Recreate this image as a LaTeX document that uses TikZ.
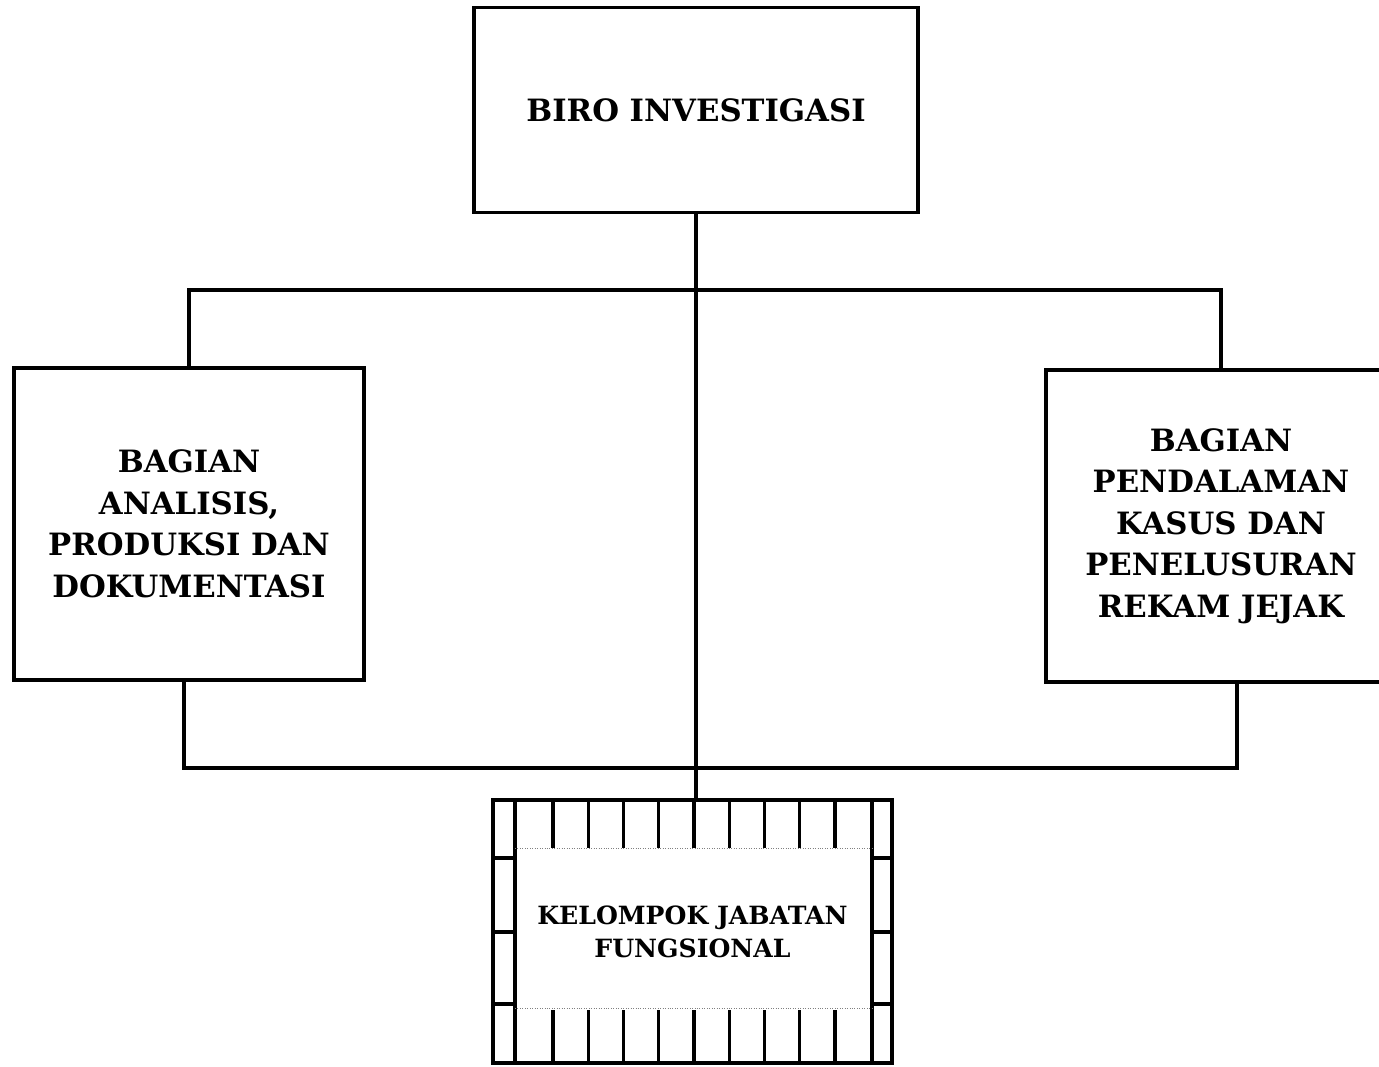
\documentclass[tikz,border=0pt]{standalone}
\usepackage{fontspec}
\setmainfont{DejaVu Serif}
\usetikzlibrary{positioning}
\begin{document}
\begin{tikzpicture}[x=0.02cm, y=-0.02cm,
	unitbox/.style={draw, line width=2.2pt, align=center, fill=white,
		font=\bfseries\fontsize{17.5}{23.6}\selectfont},
	link/.style={line width=2.2pt},
	grid/.style={line width=1.8pt}]
		\useasboundingbox (0,0) rectangle (1379,1067);
		\clip (0,0) rectangle (1379,1067);
		
		\node[unitbox, minimum width=8.88cm, minimum height=4.1cm] (biro) at (696,110) {BIRO INVESTIGASI};
		\node[unitbox, minimum width=7cm, minimum height=6.24cm] (analisis) at (189,524)
			{BAGIAN\\ANALISIS,\\PRODUKSI DAN\\DOKUMENTASI};
		\node[unitbox, minimum width=7cm, minimum height=6.24cm] (kasus) at (1221,526)
			{BAGIAN\\PENDALAMAN\\KASUS DAN\\PENELUSURAN\\REKAM JEJAK};
		\node[unitbox, minimum width=7.98cm, minimum height=5.26cm, line width=2pt,
			font=\bfseries\fontsize{14.3}{18.7}\selectfont] (kjf) at (692.5,931.5)
			{KELOMPOK JABATAN\\FUNGSIONAL};
		
		\coordinate (atas) at (696,290);
		\coordinate (bawah) at (696,768);
		
		\draw[link] (biro.south) -- (biro.south |- kjf.north);
		\draw[link] (analisis.north) |- (atas) -| (kasus.north);
		\draw[link] ([xshift=-0.1cm]analisis.south) |- (bawah) -| ([xshift=0.32cm]kasus.south);
		
		% pinggiran kotak fungsional
		\draw[grid] (515,800) -- (515,1063);
		\draw[grid] (872,800) -- (872,1063);
		\foreach \y in {858,932,1004}{
			\draw[grid] (493,\y) -- (515,\y);
			\draw[grid] (872,\y) -- (892,\y);
		}
		\foreach \i in {0,...,8}{
			\draw[grid] (553+35.25*\i,800) -- (553+35.25*\i,848);
			\draw[grid] (553+35.25*\i,1010) -- (553+35.25*\i,1063);
		}
		\draw[gray, densely dotted, thin] (515,848) -- (872,848);
		\draw[gray, densely dotted, thin] (515,1008) -- (872,1008);
		\end{tikzpicture}
\end{document}
